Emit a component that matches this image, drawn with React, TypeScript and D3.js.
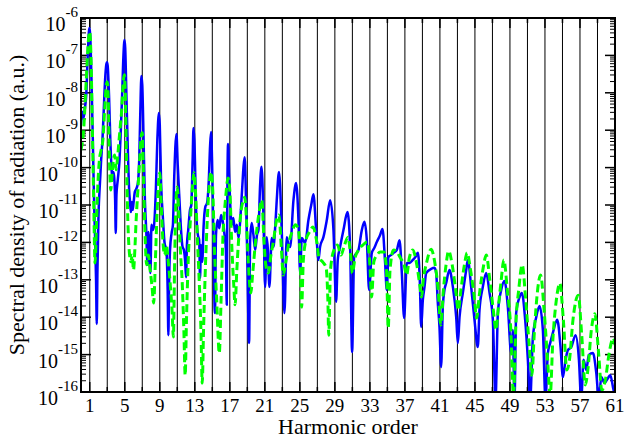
import React from 'react';
import * as d3 from 'd3';

// harmonic order (x) and log10 of spectral density (y)
const blueHarmonic = [
  0.0, 0.15, 0.3, 0.45, 0.6, 0.75, 0.9, 0.97, 1.05, 1.2, 1.35, 1.5, 1.6, 1.72, 1.8, 1.88, 2.0, 2.15, 2.3, 2.45,
  2.6, 2.75, 2.9, 2.97, 3.05, 3.2, 3.35, 3.5, 3.6, 3.7, 3.8, 3.9, 3.97, 4.05, 4.2, 4.4, 4.55, 4.7, 4.85, 4.97,
  5.05, 5.2, 5.35, 5.5, 5.6, 5.7, 5.8, 5.9, 6.0, 6.15, 6.35, 6.5, 6.65, 6.78, 6.9, 7.0, 7.15, 7.3, 7.45, 7.6,
  7.7, 7.93, 8.05, 8.2, 8.35, 8.55, 8.72, 8.9, 9.0, 9.15, 9.35, 9.55, 9.75, 9.9, 9.98, 10.06, 10.17, 10.35, 10.5, 10.65,
  10.9, 11.05, 11.25, 11.45, 11.6, 11.75, 11.9, 12.0, 12.1, 12.25, 12.45, 12.6, 12.75, 12.85, 12.95, 13.15, 13.35, 13.5, 13.6, 13.7,
  13.85, 14.0, 14.2, 14.4, 14.6, 14.75, 14.86, 14.97, 15.1, 15.3, 15.42, 15.6, 15.8, 16.0, 16.2, 16.4, 16.55, 16.65, 16.72, 16.8,
  16.92, 17.05, 17.2, 17.4, 17.6, 17.8, 18.0, 18.15, 18.4, 18.58, 18.7, 18.85, 19.0, 19.2, 19.32, 19.5, 19.7, 19.9, 20.1, 20.27,
  20.46, 20.62, 20.84, 21.03, 21.22, 21.35, 21.52, 21.79, 21.98, 22.2, 22.36, 22.62, 22.93, 23.24, 23.5, 23.7, 23.89, 24.27, 24.57, 24.84,
  25.03, 25.22, 25.6, 25.98, 26.3, 26.55, 26.86, 27.12, 27.31, 27.69, 28.08, 28.46, 28.84, 29.14, 29.33, 29.6, 29.98, 30.44, 30.74, 30.97,
  31.2, 31.7, 32.08, 32.38, 32.65, 32.91, 33.22, 33.5, 33.79, 34.17, 34.44, 34.74, 34.93, 35.12, 35.4, 35.7, 36.08, 36.38, 36.65, 36.91,
  37.22, 37.52, 37.9, 38.2, 38.48, 38.7, 38.86, 39.05, 39.24, 39.43, 40.0, 40.38, 40.57, 40.76, 40.95, 41.14, 41.33, 41.52, 41.71, 42.09,
  42.48, 42.86, 43.05, 43.24, 43.62, 44.0, 44.19, 44.57, 44.95, 45.33, 45.52, 45.9, 46.29, 46.67, 47.05, 47.35, 47.62, 48.0, 48.38, 48.76,
  49.14, 49.33, 49.52, 49.71, 50.1, 50.36, 50.74, 51.05, 51.31, 51.62, 52.0, 52.38, 52.76, 53.06, 53.33, 53.6, 53.9, 54.4, 54.78, 55.05,
  55.35, 55.62, 56.0, 56.5, 56.88, 57.14, 57.41, 57.71, 58.02, 58.48, 58.86, 59.16, 59.43, 59.81, 60.19, 60.46, 60.84, 61.0,
];
const blueLog10 = [
  -8.86, -8.51, -8.67, -8.41, -8.06, -7.12, -6.37, -6.27, -6.45, -7.66, -9.26, -11.0, -11.8, -13.01, -14.18, -12.74, -11.27, -10.47, -9.8, -9.26,
  -8.46, -7.66, -7.23, -7.18, -7.28, -8.06, -9.26, -10.06, -10.33, -10.12, -10.28, -10.87, -11.75, -10.73, -10.33, -9.8, -8.99, -8.06, -6.99, -6.59,
  -6.8, -8.19, -9.53, -10.6, -10.92, -11.19, -10.92, -11.13, -10.95, -10.65, -10.55, -10.41, -9.8, -8.46, -7.55, -7.79, -9.26, -10.87, -11.67, -12.6,
  -11.72, -12.82, -11.53, -11.67, -11.53, -10.6, -9.26, -8.54, -8.86, -10.41, -11.32, -12.02, -12.2, -13.27, -14.48, -13.14, -12.2, -11.75, -11.53, -10.25,
  -9.1, -9.93, -10.87, -11.75, -12.12, -12.2, -12.52, -12.93, -12.07, -11.67, -11.13, -11.0, -9.8, -8.94, -9.26, -11.13, -11.8, -11.94, -12.95, -12.07,
  -12.52, -11.59, -11.05, -10.95, -10.33, -9.4, -9.05, -9.8, -11.53, -13.89, -11.8, -11.4, -11.62, -11.27, -11.45, -11.8, -12.2, -13.67, -10.6, -9.37,
  -10.2, -11.0, -11.53, -11.35, -11.72, -11.53, -11.88, -11.53, -10.6, -9.93, -9.72, -10.87, -12.47, -14.69, -11.94, -11.48, -11.8, -12.2, -11.8, -11.67,
  -10.47, -9.98, -11.27, -13.19, -11.86, -12.2, -13.19, -11.88, -12.12, -11.53, -10.87, -10.12, -11.67, -13.89, -11.86, -12.07, -12.12, -10.87, -10.41, -11.4,
  -12.82, -11.88, -12.02, -11.4, -11.0, -10.71, -11.67, -12.47, -12.12, -11.86, -11.4, -10.87, -11.67, -13.59, -12.47, -12.12, -11.67, -11.19, -12.12, -14.93,
  -12.39, -12.2, -11.67, -11.45, -11.94, -13.27, -12.28, -12.15, -11.99, -11.8, -11.64, -12.55, -13.27, -12.39, -12.34, -12.28, -12.2, -11.94, -12.82, -14.02,
  -12.55, -12.55, -12.47, -12.39, -12.28, -13.01, -14.26, -13.54, -13.19, -12.82, -12.71, -12.68, -12.82, -13.62, -14.26, -15.33, -13.73, -13.27, -13.09, -12.74,
  -13.19, -14.0, -14.69, -14.0, -13.35, -12.74, -12.47, -13.19, -14.07, -14.8, -13.81, -13.19, -12.82, -13.35, -14.07, -16.21, -13.89, -13.27, -13.03, -13.73,
  -14.96, -14.34, -16.21, -13.89, -13.46, -13.35, -14.07, -15.14, -16.21, -14.53, -14.0, -13.7, -14.34, -16.21, -14.96, -14.69, -14.42, -14.07, -14.8, -15.6,
  -15.14, -14.88, -14.8, -14.48, -15.14, -16.21, -15.14, -15.41, -15.01, -14.96, -15.49, -16.21, -15.6, -15.76, -15.63, -15.55, -15.95, -16.08,
];

const greenHarmonic = [
  0.0, 0.3, 0.6, 0.85, 1.0, 1.15, 1.3, 1.45, 1.6, 1.75, 1.9, 2.1, 2.3, 2.5, 2.7, 2.9, 3.0, 3.1, 3.25, 3.4,
  3.55, 3.7, 3.85, 4.0, 4.15, 4.35, 4.5, 4.65, 4.8, 4.95, 5.05, 5.2, 5.35, 5.5, 5.7, 5.85, 6.0, 6.15, 6.3, 6.5,
  6.7, 6.9, 7.0, 7.15, 7.3, 7.5, 7.7, 7.9, 8.1, 8.3, 8.5, 8.7, 8.9, 9.0, 9.15, 9.35, 9.55, 9.75, 9.95, 10.2,
  10.4, 10.55, 10.7, 10.85, 11.0, 11.15, 11.35, 11.55, 11.75, 11.9, 12.05, 12.25, 12.5, 12.75, 12.9, 13.1, 13.3, 13.5, 13.7, 13.85,
  14.0, 14.2, 14.45, 14.7, 14.86, 15.05, 15.25, 15.5, 15.8, 16.0, 16.2, 16.5, 16.8, 17.0, 17.2, 17.45, 17.6, 17.8, 18.0, 18.3,
  18.55, 18.7, 18.9, 19.1, 19.4, 19.6, 19.9, 20.3, 20.65, 20.9, 21.1, 21.4, 21.7, 22.0, 22.3, 22.6, 22.9, 23.1, 23.4, 23.7,
  24.1, 24.5, 24.8, 25.05, 25.2, 25.4, 25.7, 26.1, 26.5, 26.9, 27.2, 27.6, 28.0, 28.2, 28.3, 28.5, 28.9, 29.3, 29.7, 30.1,
  30.5, 30.8, 31.0, 31.3, 31.7, 32.2, 32.7, 33.0, 33.2, 33.45, 33.8, 34.2, 34.6, 34.9, 35.1, 35.3, 35.7, 36.1, 36.5, 36.9,
  37.2, 37.5, 37.9, 38.3, 38.7, 38.9, 39.1, 39.5, 40.0, 40.4, 40.8, 41.1, 41.4, 41.7, 42.0, 42.4, 42.8, 43.1, 43.4, 43.8,
  44.1, 44.5, 44.9, 45.2, 45.5, 45.9, 46.3, 46.7, 47.1, 47.4, 47.7, 48.0, 48.3, 48.7, 49.1, 49.4, 49.7, 50.0, 50.4, 50.8,
  51.2, 51.5, 51.8, 52.1, 52.5, 52.9, 53.3, 53.6, 53.9, 54.3, 54.7, 55.1, 55.5, 55.8, 56.2, 56.8, 57.2, 57.6, 57.9, 58.3,
  58.7, 59.1, 59.5, 59.9, 60.3, 60.8, 61.0,
];
const greenLog10 = [
  -9.53, -8.99, -7.66, -6.59, -6.37, -7.12, -8.99, -10.87, -12.55, -11.67, -10.6, -9.8, -9.53, -9.26, -8.46, -7.79, -7.71, -8.06, -9.8, -10.6,
  -10.2, -9.8, -9.66, -10.06, -9.8, -9.26, -8.86, -8.46, -7.79, -7.52, -7.93, -9.8, -11.4, -12.2, -12.52, -12.34, -12.74, -12.2, -11.4, -10.6,
  -9.8, -9.13, -9.07, -10.33, -11.67, -12.6, -12.34, -12.74, -13.14, -13.62, -12.47, -11.13, -10.28, -10.14, -10.87, -11.94, -12.34, -12.07, -12.47, -13.14,
  -13.81, -14.53, -12.47, -10.87, -10.52, -11.13, -12.2, -13.01, -14.34, -15.55, -14.07, -12.47, -11.4, -10.47, -10.14, -10.73, -11.94, -13.01, -14.34, -15.76,
  -14.34, -12.74, -11.27, -10.33, -10.12, -10.6, -12.2, -13.54, -14.96, -13.54, -11.94, -10.87, -10.28, -10.6, -11.94, -13.14, -13.67, -12.74, -11.94, -11.13,
  -10.87, -10.79, -11.4, -12.47, -13.35, -12.87, -12.07, -11.27, -10.87, -11.94, -12.6, -12.82, -12.34, -11.94, -11.45, -11.27, -12.2, -12.87, -12.52, -12.07,
  -11.72, -11.53, -11.62, -12.47, -13.73, -12.47, -11.94, -11.72, -11.59, -11.94, -12.42, -12.52, -12.68, -13.54, -14.48, -12.74, -12.2, -12.07, -12.34, -12.07,
  -11.86, -12.34, -12.82, -12.42, -12.2, -12.07, -11.99, -12.6, -13.46, -12.52, -12.34, -12.26, -12.26, -12.74, -14.29, -12.74, -12.2, -12.26, -12.42, -12.6,
  -12.87, -12.42, -12.2, -12.52, -13.14, -13.46, -13.01, -12.52, -12.18, -12.52, -13.27, -14.21, -13.27, -12.6, -12.23, -12.6, -13.27, -13.81, -13.27, -12.6,
  -12.28, -12.74, -13.41, -14.02, -13.41, -12.74, -12.34, -13.01, -13.81, -14.34, -13.67, -13.01, -12.47, -13.27, -14.34, -16.08, -14.07, -13.27, -12.6, -13.54,
  -14.74, -15.55, -14.34, -13.41, -12.87, -13.81, -15.14, -16.08, -14.61, -13.54, -13.09, -14.07, -15.41, -15.14, -14.07, -13.41, -14.48, -15.81, -15.41, -14.34,
  -13.91, -14.88, -15.95, -15.68, -15.01, -14.56, -14.74,
];

const harmonicLabels = [1, 5, 9, 13, 17, 21, 25, 29, 33, 37, 41, 45, 49, 53, 57, 61];
const harmonicLines = d3.range(1, 62, 2);
const decades = [-6, -7, -8, -9, -10, -11, -12, -13, -14, -15, -16];

const W = 626;
const H = 439;
const left = 81, right = 615, top = 18, bottom = 392;
const FONT = '"Liberation Serif", "DejaVu Serif", "Times New Roman", serif';
const textStyle = { fontFamily: FONT };

export default function App() {
  const x = d3.scaleLinear().domain([0, 61]).range([left, right]);
  const y = d3.scaleLog().domain([1e-16, 1e-6]).range([bottom, top]);

  const blue: [number, number][] = blueHarmonic.map((h, i) => [h, Math.pow(10, blueLog10[i])]);
  const green: [number, number][] = greenHarmonic.map((h, i) => [h, Math.pow(10, greenLog10[i])]);

  const line = d3.line<[number, number]>()
    .x(d => x(d[0]))
    .y(d => y(d[1]))
    .curve(d3.curveMonotoneX);

  // minor ticks 2..9 per decade
  const minor: number[] = [];
  decades.slice(1).forEach(e => {
    for (let m = 2; m <= 9; m++) minor.push(m * Math.pow(10, e));
  });

  const midY = (top + bottom) / 2;

  return (
    <svg width={W} height={H} style={{ position: 'absolute', left: 0, top: 0, background: '#fff' }}>
      <defs>
        <clipPath id="plot">
          <rect x={left} y={top} width={right - left} height={bottom - top} />
        </clipPath>
      </defs>
      <rect width={W} height={H} fill="#fff" />

      {/* vertical lines at odd harmonics */}
      {harmonicLines.map(h => (
        <line key={'v' + h} x1={x(h)} x2={x(h)} y1={top} y2={bottom} stroke="#000" strokeWidth={1} />
      ))}

      {/* x ticks top and bottom */}
      {harmonicLines.map(h => {
        const len = harmonicLabels.includes(h) ? 10 : 5;
        return (
          <g key={'xt' + h}>
            <line x1={x(h)} x2={x(h)} y1={bottom} y2={bottom - len} stroke="#000" strokeWidth={1.5} />
            <line x1={x(h)} x2={x(h)} y1={top} y2={top + len} stroke="#000" strokeWidth={1.5} />
          </g>
        );
      })}

      {/* y ticks left and right */}
      {decades.map(e => (
        <g key={'yt' + e}>
          <line x1={left} x2={left + 10} y1={y(Math.pow(10, e))} y2={y(Math.pow(10, e))} stroke="#000" strokeWidth={1.5} />
          <line x1={right} x2={right - 10} y1={y(Math.pow(10, e))} y2={y(Math.pow(10, e))} stroke="#000" strokeWidth={1.5} />
        </g>
      ))}
      {minor.map((v, i) => (
        <g key={'ym' + i}>
          <line x1={left} x2={left + 5} y1={y(v)} y2={y(v)} stroke="#000" strokeWidth={1} />
          <line x1={right} x2={right - 5} y1={y(v)} y2={y(v)} stroke="#000" strokeWidth={1} />
        </g>
      ))}

      <g clipPath="url(#plot)">
        <path d={line(blue) || ''} fill="none" stroke="#0000ff" strokeWidth={2.5} strokeLinejoin="round" />
        <path d={line(green) || ''} fill="none" stroke="#00ff00" strokeWidth={3} strokeDasharray="8,4" />
      </g>

      {/* frame */}
      <rect x={left} y={top} width={right - left} height={bottom - top} fill="none" stroke="#000" strokeWidth={2} />

      {/* y tick labels */}
      {decades.map(e => (
        <text key={'yl' + e} x={78} y={y(Math.pow(10, e)) + 13} textAnchor="end" fontSize={20} fill="#000" style={textStyle}>
          <tspan>10</tspan>
          <tspan dy={-14} fontSize={15}>{String(e)}</tspan>
        </text>
      ))}

      {/* x tick labels */}
      {harmonicLabels.map(h => (
        <text key={'xl' + h} x={x(h)} y={412} textAnchor="middle" fontSize={19} fill="#000" style={textStyle}>{h}</text>
      ))}

      <text x={348} y={434} textAnchor="middle" fontSize={22} fill="#000" style={textStyle}>Harmonic order</text>
      <text transform={`translate(24, ${midY}) rotate(-90)`} textAnchor="middle" fontSize={22} fill="#000" style={textStyle}>
        Spectral density of radiation (a.u.)
      </text>
    </svg>
  );
}
